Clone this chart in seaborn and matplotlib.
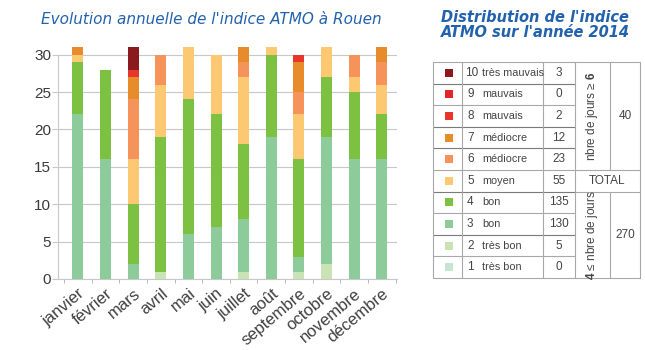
import numpy as np
import pandas as pd
import matplotlib
matplotlib.use("Agg")
import matplotlib.pyplot as plt
import seaborn as sns

# ---- data ----
months = ["janvier", "février", "mars", "avril", "mai", "juin", "juillet",
          "août", "septembre", "octobre", "novembre", "décembre"]
levels = [1, 2, 3, 4, 5, 6, 7, 8, 9, 10]
level_names = ["très bon", "très bon", "bon", "bon", "moyen", "médiocre",
               "médiocre", "mauvais", "mauvais", "très mauvais"]
level_colors = ["#c6e4cf", "#c9e3b5", "#8dcb9b", "#7cc142", "#fdc872",
                "#f6935a", "#e88b2a", "#e8362c", "#e0262a", "#8b1a1f"]
# days per month for each ATMO index level (rows = levels 1..10)
counts = {
    1:  [0, 0, 0, 0, 0, 0, 0, 0, 0, 0, 0, 0],
    2:  [0, 0, 0, 1, 0, 0, 1, 0, 1, 2, 0, 0],
    3:  [22, 16, 2, 0, 6, 7, 7, 19, 2, 17, 16, 16],
    4:  [7, 12, 8, 18, 18, 15, 10, 11, 13, 8, 9, 6],
    5:  [1, 0, 6, 7, 7, 8, 9, 1, 6, 4, 2, 4],
    6:  [0, 0, 8, 4, 0, 0, 2, 0, 3, 0, 3, 3],
    7:  [1, 0, 3, 0, 0, 0, 2, 0, 4, 0, 0, 2],
    8:  [0, 0, 1, 0, 0, 0, 0, 0, 1, 0, 0, 0],
    9:  [0, 0, 0, 0, 0, 0, 0, 0, 0, 0, 0, 0],
    10: [0, 0, 3, 0, 0, 0, 0, 0, 0, 0, 0, 0],
}
yticks = [0, 5, 10, 15, 20, 25, 30]
group_labels = ["nbre de jours ≥ $\\mathbf{6}$", "$\\mathbf{4}$ ≤ nbre de jours"]
title_left = "Evolution annuelle de l'indice ATMO à Rouen"
title_right = "Distribution de l'indice\nATMO sur l'année 2014"

sns.set_style("white")
plt.rcParams["font.family"] = ["Liberation Sans", "DejaVu Sans"]
plt.rcParams["mathtext.fontset"] = "custom"
plt.rcParams["mathtext.bf"] = "Liberation Sans:bold"

W, H = 645, 350
fig = plt.figure(figsize=(W / 100, H / 100), dpi=100)

# ---- stacked bar chart ----
ax = fig.add_axes([58 / W, 1 - 279 / H, (397 - 58) / W, (279 - 46) / H])
bottom = np.zeros(len(months))
for lv, col in zip(levels, level_colors):
    vals = np.array(counts[lv], dtype=float)
    df = pd.DataFrame({"mois": months, "jours": vals})
    sns.barplot(data=df, x="mois", y="jours", order=months, color=col,
                width=0.4, bottom=bottom, errorbar=None, saturation=1,
                ax=ax, zorder=3, linewidth=0)
    bottom = bottom + vals

ax.set_ylim(0, 31.15)
ax.set_xlim(-0.72, 11.55)
ax.set_yticks(yticks)
ax.set_yticklabels([str(t) for t in yticks], fontsize=11, color="#3a3a3a")
ax.yaxis.grid(True, color="#c8c8c8", linewidth=0.8, zorder=0)
ax.tick_params(axis="y", length=4, color="#c8c8c8", pad=1, left=True)
ax.set_xticks(range(len(months)))
ax.set_xticklabels(months, rotation=40, ha="right", rotation_mode="anchor",
                   fontsize=12, color="#404040")
ax.set_xticks(np.arange(-0.5, 12, 1.0), minor=True)
ax.tick_params(axis="x", which="major", length=0, pad=5)
ax.tick_params(axis="x", which="minor", length=3, color="#aaaaaa", bottom=True)
ax.set_xlabel("")
ax.set_ylabel("")
for s in ["top", "right"]:
    ax.spines[s].set_visible(False)
ax.spines["left"].set_bounds(0, 30)
ax.spines["left"].set_color("#c8c8c8")
ax.spines["bottom"].set_color("#c8c8c8")
ax.set_axisbelow(True)

# ---- titles ----
tcol = "#2262ad"
fig.text(211 / W, 1 - 19 / H, title_left, ha="center", va="center",
         fontsize=11, style="italic", color=tcol, family="DejaVu Sans")
fig.text(535 / W, 1 - 25 / H, title_right, ha="center", va="center",
         fontsize=10.5, style="italic", color=tcol, family="DejaVu Sans",
         fontweight="bold", linespacing=0.95)

# ---- distribution table ----
tx = fig.add_axes([0, 0, 1, 1], facecolor="none")
tx.set_xlim(0, W)
tx.set_ylim(H, 0)
tx.axis("off")
x0, x1, x2, x3, x4, x5 = 433, 462, 543, 575, 610, 640
ytop, ybot = 62, 278
rh = (ybot - ytop) / 10
lc = "#a8a8a8"
dark = "#7a7a7a"
tcol2 = "#444444"
fs = 7.8
fs2 = 8.5
order_desc = levels[::-1]
for i, lv in enumerate(order_desc):
    yc = ytop + (i + 0.5) * rh
    k = levels.index(lv)
    tx.add_patch(plt.Rectangle((445, yc - 4), 8, 8, color=level_colors[k],
                               linewidth=0))
    tx.text(465 if lv == 10 else 467, yc, str(lv), ha="left", va="center",
            fontsize=fs2, color=tcol2)
    tx.text(482, yc, level_names[k], ha="left", va="center", fontsize=fs,
            color=tcol2)
    tx.text((x2 + x3) / 2, yc, str(int(sum(counts[lv]))), ha="center",
            va="center", fontsize=fs2, color=tcol2)

# horizontal lines
dark_rows = {1, 3, 4, 6, 8}
for i in range(11):
    y = ytop + i * rh
    c = dark if i in dark_rows else lc
    tx.plot([x0, x3], [y, y], color=c, lw=0.8)
for y in [ytop, ytop + 5 * rh, ytop + 6 * rh, ybot]:
    tx.plot([x3, x5], [y, y], color=lc, lw=0.8)
# vertical lines
for x in [x0, x1, x2, x3, x5]:
    tx.plot([x, x], [ytop, ybot], color=lc, lw=0.8)
tx.plot([x4, x4], [ytop, ytop + 5 * rh], color=lc, lw=0.8)
tx.plot([x4, x4], [ytop + 6 * rh, ybot], color=lc, lw=0.8)

tot_hi = sum(sum(counts[lv]) for lv in [6, 7, 8, 9, 10])
tot_lo = sum(sum(counts[lv]) for lv in [1, 2, 3, 4])
tx.text((x3 + x5) / 2, ytop + 5.5 * rh, "TOTAL", ha="center", va="center",
        fontsize=fs2, color=tcol2)
tx.text((x4 + x5) / 2, ytop + 2.5 * rh, str(tot_hi), ha="center",
        va="center", fontsize=fs2, color=tcol2)
tx.text((x4 + x5) / 2, ytop + 8 * rh, str(tot_lo), ha="center",
        va="center", fontsize=fs2, color=tcol2)
tx.text((x3 + x4) / 2, ytop + 2.5 * rh, group_labels[0], rotation=90,
        ha="center", va="center", fontsize=fs2, color=tcol2)
tx.text((x3 + x4) / 2, ytop + 8 * rh, group_labels[1], rotation=90,
        ha="center", va="center", fontsize=fs2, color=tcol2)

fig.savefig("out.png", dpi=100)
